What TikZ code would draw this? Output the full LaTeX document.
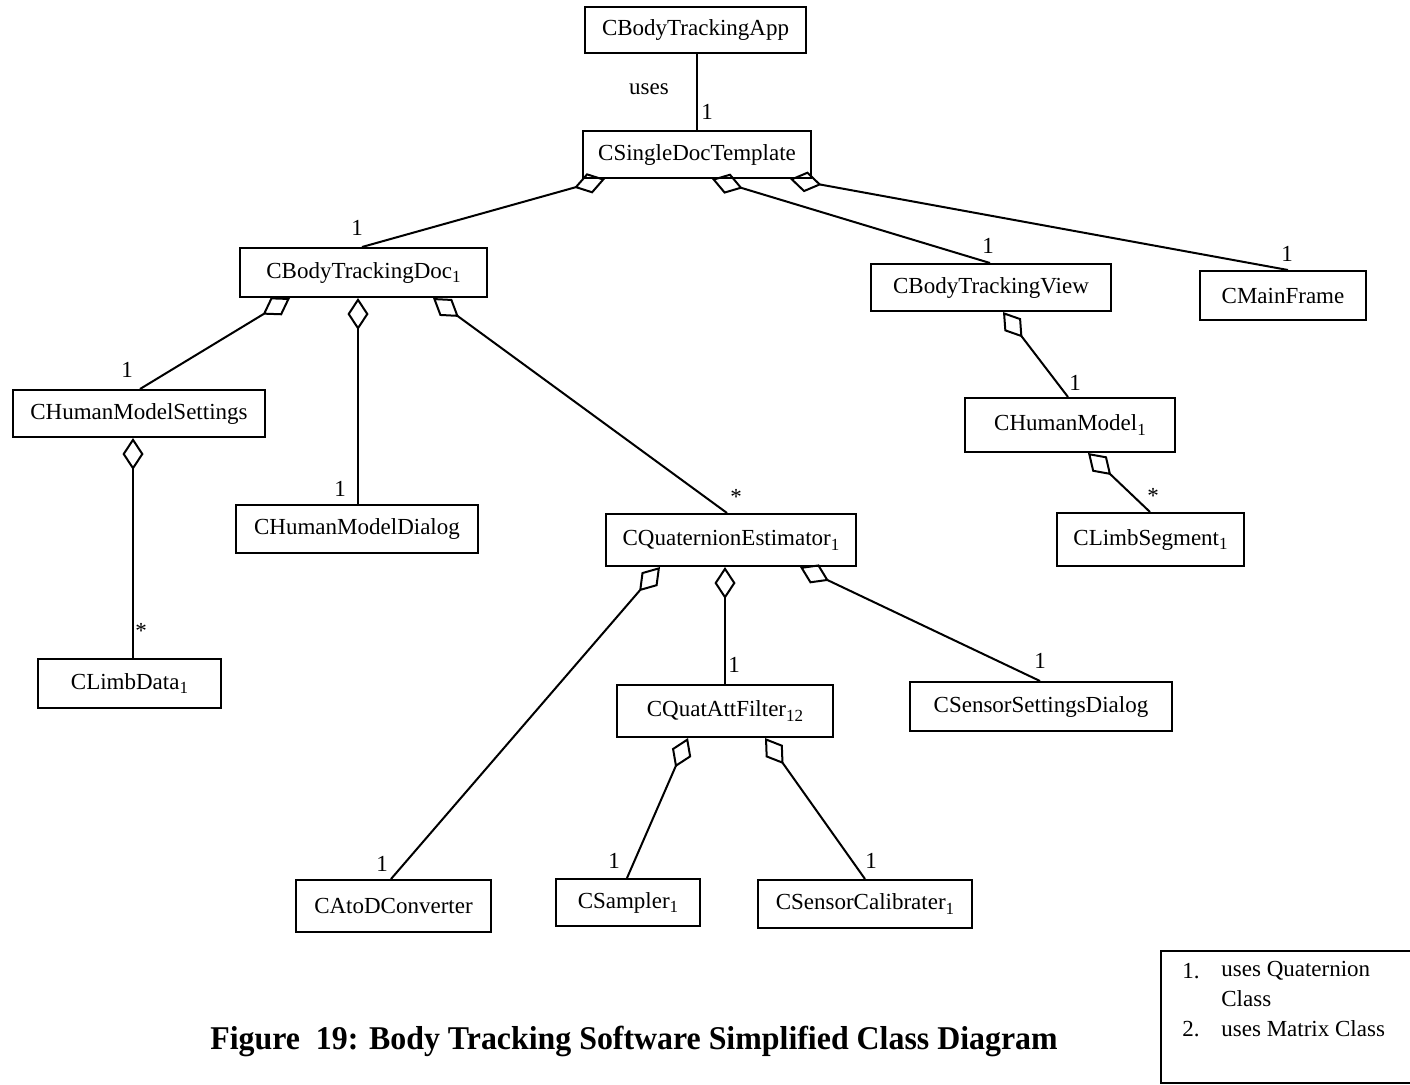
\documentclass[tikz,border=0pt]{standalone}
\usepackage{fontspec}
\setmainfont{Liberation Serif}
\usetikzlibrary{arrows.meta}
\newcommand\subidx[1]{\raisebox{-0.45ex}{\fontsize{8.5}{9}\selectfont #1}}
\begin{document}
\begin{tikzpicture}[x=0.5pt,y=-0.5pt,
  cls/.style={draw,line width=1pt,inner sep=0pt,font=\fontsize{11.5}{13}\selectfont},
  lbl/.style={inner sep=0pt,font=\fontsize{11.5}{13}\selectfont},
  assoc/.style={line width=1pt},
  agg/.style={line width=1pt,{Diamond[open,length=16pt,width=10.5pt,line width=1pt]}-}]
\useasboundingbox (0,0) rectangle (1410,1084);
% classes
\node[cls,minimum width=110.5pt,minimum height=23pt] (app) at (695.5,30) {CBodyTrackingApp};
\node[cls,minimum width=114pt,minimum height=23.5pt] (sdt) at (697,154.5) {CSingleDocTemplate};
\node[cls,minimum width=123.5pt,minimum height=24.5pt] (doc) at (363.5,272.5) {CBodyTrackingDoc\subidx{1}};
\node[cls,minimum width=120pt,minimum height=23.5pt] (view) at (991,287.5) {CBodyTrackingView};
\node[cls,minimum width=83pt,minimum height=24.5pt] (mf) at (1283,295.5) {CMainFrame};
\node[cls,minimum width=126pt,minimum height=23.5pt] (hms) at (139,413.5) {CHumanModelSettings};
\node[cls,minimum width=121pt,minimum height=24pt] (hmd) at (357,529) {CHumanModelDialog};
\node[cls,minimum width=125pt,minimum height=26pt] (qe) at (731,540) {CQuaternionEstimator\subidx{1}};
\node[cls,minimum width=105pt,minimum height=27pt] (hm) at (1070,425) {CHumanModel\subidx{1}};
\node[cls,minimum width=93.5pt,minimum height=26.5pt] (ls) at (1150.5,539.5) {CLimbSegment\subidx{1}};
\node[cls,minimum width=91.5pt,minimum height=24.5pt] (ld) at (129.5,683.5) {CLimbData\subidx{1}};
\node[cls,minimum width=108pt,minimum height=26pt] (qaf) at (725,711) {CQuatAttFilter\subidx{12}};
\node[cls,minimum width=131pt,minimum height=24.5pt] (ssd) at (1041,706.5) {CSensorSettingsDialog};
\node[cls,minimum width=97.5pt,minimum height=26pt] (atod) at (393.5,906) {CAtoDConverter};
\node[cls,minimum width=72pt,minimum height=23.5pt] (samp) at (628,902.5) {CSampler\subidx{1}};
\node[cls,minimum width=107pt,minimum height=24pt] (cal) at (865,904) {CSensorCalibrater\subidx{1}};
% connectors
\draw[assoc] (697,0 |- app.south) -- (697,0 |- sdt.north);
\draw[agg] (605,0 |- sdt.south) -- (362,0 |- doc.north);
\draw[agg] (712,0 |- sdt.south) -- (990,0 |- view.north);
\draw[agg] (790,0 |- sdt.south) -- (1288,0 |- mf.north);
\draw[agg] (290,0 |- doc.south) -- (140,0 |- hms.north);
\draw[agg] (358,0 |- doc.south) -- (358,0 |- hmd.north);
\draw[agg] (433,0 |- doc.south) -- (727,0 |- qe.north);
\draw[agg] (1003,0 |- view.south) -- (1068,0 |- hm.north);
\draw[agg] (1088,0 |- hm.south) -- (1150,0 |- ls.north);
\draw[agg] (133,0 |- hms.south) -- (133,0 |- ld.north);
\draw[agg] (660,0 |- qe.south) -- (391,0 |- atod.north);
\draw[agg] (725,0 |- qe.south) -- (725,0 |- qaf.north);
\draw[agg] (800,0 |- qe.south) -- (1040,0 |- ssd.north);
\draw[agg] (688,0 |- qaf.south) -- (627,0 |- samp.north);
\draw[agg] (765,0 |- qaf.south) -- (865,0 |- cal.north);
% labels
\node[lbl] (uses) at (649,89) {uses};
\node[lbl] (m1) at (707,112) {1};
\node[lbl] (m2) at (357,228) {1};
\node[lbl] (m3) at (988,246) {1};
\node[lbl] (m4) at (1287,254) {1};
\node[lbl] (m5) at (127,370) {1};
\node[lbl] (m6) at (340,489) {1};
\node[lbl] (m7) at (736,497) {*};
\node[lbl] (m8) at (1075,383) {1};
\node[lbl] (m9) at (1153,496) {*};
\node[lbl] (m10) at (141,631) {*};
\node[lbl] (m11) at (382,864) {1};
\node[lbl] (m12) at (734,665) {1};
\node[lbl] (m13) at (1040,661) {1};
\node[lbl] (m14) at (614,861) {1};
\node[lbl] (m15) at (871,861) {1};
% legend
\draw[line width=1pt] (1420,951) -- (1161,951) -- (1161,1083) -- (1420,1083);
\node[lbl,anchor=west] (l1n) at (1182,971) {1.};
\node[lbl,anchor=west] (l1a) at (1221,971) {uses Quaternion};
\node[lbl,anchor=west] (l1b) at (1221,999) {Class};
\node[lbl,anchor=west] (l2n) at (1182,1029) {2.};
\node[lbl,anchor=west] (l2a) at (1221,1029) {uses Matrix Class};
% caption
\node[inner sep=0pt,anchor=base] (cap) at (634,1049) {\scalebox{0.96}[1]{\fontsize{16.6}{18}\selectfont\bfseries Figure~~19: Body Tracking Software Simplified Class Diagram}};
\end{tikzpicture}
\end{document}
